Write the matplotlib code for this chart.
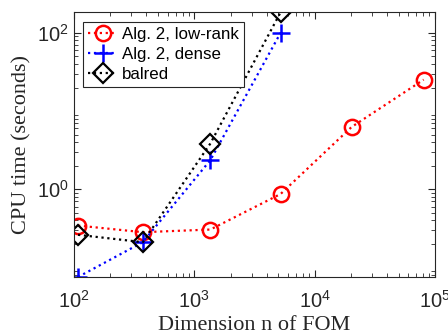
import numpy as np
import matplotlib
matplotlib.use("Agg")
import matplotlib.pyplot as plt

# ---------------------------------------------------------------------------
# data
# ---------------------------------------------------------------------------
n_lowrank = [108, 373, 1359, 5210, 20300, 80500]
t_lowrank = [0.344, 0.283, 0.306, 0.871, 6.27, 25.2]

n_dense = [108, 373, 1359, 5210]
t_dense = [0.0757, 0.211, 2.36, 100.0]

n_balred = [108, 373, 1359, 5210]
t_balred = [0.262, 0.211, 3.85, 183.0]

labels = ["Alg. 2, low-rank", "Alg. 2, dense", "balred"]

plt.rcParams["mathtext.fontset"] = "custom"
plt.rcParams["mathtext.rm"] = "Liberation Sans"
plt.rcParams["mathtext.it"] = "Liberation Sans:italic"
plt.rcParams["font.family"] = "Liberation Sans"

fig = plt.figure(figsize=(4.48, 3.35), dpi=100)
ax = fig.add_axes([74 / 448, 1 - 277 / 335, (435 - 74) / 448, (277 - 12.3) / 335])

ax.plot(n_lowrank, t_lowrank, ":", color="red", lw=1.6, marker="o", ms=11,
        mfc="none", mew=1.8, label=labels[0])
ax.plot(n_dense, t_dense, ":", color="blue", lw=1.6, marker="+", ms=13,
        mew=1.8, label=labels[1])
ax.plot(n_balred, t_balred, ":", color="black", lw=1.6, marker="D", ms=10,
        mfc="none", mew=1.6, label=labels[2])

ax.set_xscale("log")
ax.set_yscale("log")
ax.set_xlim(1e2, 1e5)
ax.set_ylim(min(t_dense), max(t_balred))
ax.set_xticks([1e2, 1e3, 1e4, 1e5])
ax.set_yticks([1e0, 1e2])

edge = "#262626"
for s in ax.spines.values():
    s.set_color(edge)
    s.set_linewidth(0.8)
ax.tick_params(which="both", direction="in", top=True, right=True, color=edge)
ax.tick_params(which="major", length=5, labelsize=14.5, labelcolor=edge)
ax.tick_params(which="minor", length=2.8)
ax.tick_params(axis="x", pad=9)

ax.set_xlabel("Dimension n of FOM", family="Liberation Serif", fontsize=16,
              color=edge, labelpad=3)
ax.set_ylabel("CPU time (seconds)", family="Liberation Serif", fontsize=16,
              color=edge, labelpad=4)

leg = ax.legend(loc="upper left", bbox_to_anchor=(0.025, 0.965), fontsize=12.2,
                fancybox=False, framealpha=1, edgecolor=edge,
                handlelength=1.7, handletextpad=0.3, borderpad=0.3,
                labelspacing=0.3, borderaxespad=0)
leg.get_frame().set_linewidth(0.8)

fig.savefig("out.png", dpi=100)
